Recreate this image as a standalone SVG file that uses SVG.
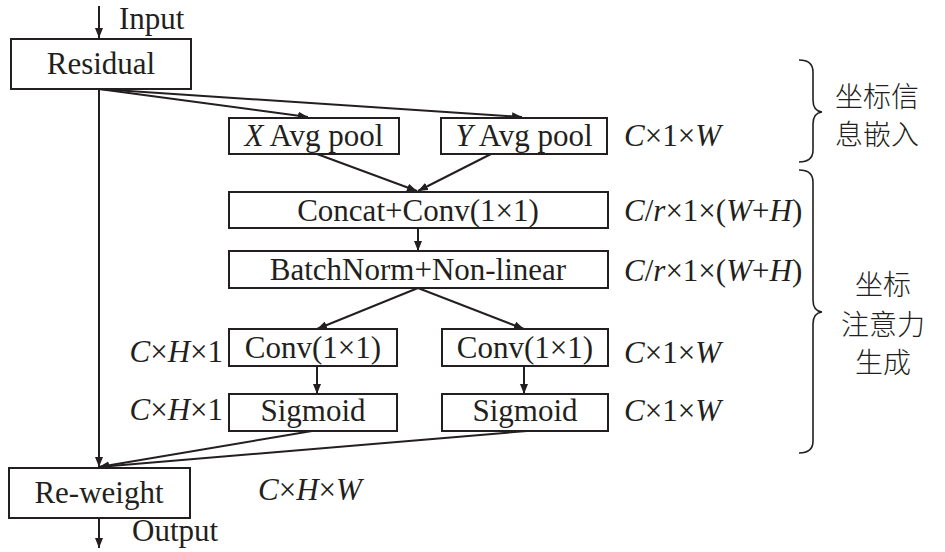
<svg xmlns="http://www.w3.org/2000/svg" width="945" height="552" viewBox="0 0 945 552">
<defs>
<marker id="arrow" viewBox="0 0 10 8" refX="10" refY="4" markerWidth="10" markerHeight="8" markerUnits="userSpaceOnUse" orient="auto">
<path d="M0,0 L10,4 L0,8 Z" fill="#231f20"/>
</marker>
<style>
.box{fill:#fff;stroke:#231f20;stroke-width:2}
.t{font-family:'Liberation Serif',serif;font-size:31px;fill:#231f20}
.c{text-anchor:middle}
.e{text-anchor:end}
.i{font-style:italic}
.cn{font-family:'Noto Sans CJK SC',sans-serif;font-size:28px;fill:#231f20;font-weight:300}
.ln{fill:none;stroke:#231f20;stroke-width:2}
.br{fill:none;stroke:#231f20;stroke-width:1.6}
</style>
</defs>
<rect width="945" height="552" fill="#fff"/>
<g id="connectors">
<line class="ln" x1="99" y1="6" x2="99" y2="38" marker-end="url(#arrow)"/>
<line class="ln" x1="99" y1="89" x2="308" y2="117" marker-end="url(#arrow)"/>
<line class="ln" x1="99" y1="89" x2="522" y2="117" marker-end="url(#arrow)"/>
<line class="ln" x1="317" y1="154" x2="417" y2="191" marker-end="url(#arrow)"/>
<line class="ln" x1="491" y1="154" x2="418" y2="191" marker-end="url(#arrow)"/>
<line class="ln" x1="418" y1="228" x2="418" y2="251" marker-end="url(#arrow)"/>
<line class="ln" x1="418" y1="288" x2="317" y2="329" marker-end="url(#arrow)"/>
<line class="ln" x1="418" y1="288" x2="524" y2="329" marker-end="url(#arrow)"/>
<line class="ln" x1="317" y1="366" x2="317" y2="394" marker-end="url(#arrow)"/>
<line class="ln" x1="524" y1="366" x2="524" y2="394" marker-end="url(#arrow)"/>
<line class="ln" x1="99" y1="89" x2="99" y2="467" marker-end="url(#arrow)"/>
<line class="ln" x1="312" y1="431" x2="99" y2="467" marker-end="url(#arrow)"/>
<line class="ln" x1="527" y1="431" x2="99" y2="467" marker-end="url(#arrow)"/>
<line class="ln" x1="99" y1="518" x2="99" y2="548" marker-end="url(#arrow)"/>
</g>
<g id="input-label"><text class="t" x="119" y="29">Input</text></g>
<g id="residual"><rect class="box" x="11" y="39" width="180" height="50"/><text class="t c" x="101" y="74">Residual</text></g>
<g id="xpool"><rect class="box" x="229" y="118" width="170" height="36"/><text class="t c" x="314" y="146"><tspan class="i">X</tspan> Avg pool</text></g>
<g id="ypool"><rect class="box" x="441" y="118" width="166" height="36"/><text class="t c" x="524" y="146"><tspan class="i">Y</tspan> Avg pool</text></g>
<g id="concat"><rect class="box" x="229" y="192" width="379" height="36"/><text class="t c" x="418" y="221">Concat+Conv(1×1)</text></g>
<g id="batchnorm"><rect class="box" x="229" y="251" width="379" height="37"/><text class="t c" x="418" y="280">BatchNorm+Non-linear</text></g>
<g id="conv-h"><rect class="box" x="229" y="329" width="168" height="37"/><text class="t c" x="313" y="358">Conv(1×1)</text></g>
<g id="conv-w"><rect class="box" x="442" y="329" width="166" height="37"/><text class="t c" x="525" y="358">Conv(1×1)</text></g>
<g id="sigmoid-h"><rect class="box" x="229" y="394" width="168" height="37"/><text class="t c" x="313" y="421">Sigmoid</text></g>
<g id="sigmoid-w"><rect class="box" x="442" y="394" width="166" height="37"/><text class="t c" x="525" y="421">Sigmoid</text></g>
<g id="reweight"><rect class="box" x="9" y="468" width="181" height="50"/><text class="t c" x="99" y="503">Re-weight</text></g>
<g id="output-label"><text class="t" x="132" y="541">Output</text></g>
<g id="dims">
<text class="t" x="624" y="146"><tspan class="i">C</tspan>×1×<tspan class="i">W</tspan></text>
<text class="t" x="624" y="221"><tspan class="i">C</tspan>/<tspan class="i">r</tspan>×1×(<tspan class="i">W</tspan>+<tspan class="i">H</tspan>)</text>
<text class="t" x="624" y="281"><tspan class="i">C</tspan>/<tspan class="i">r</tspan>×1×(<tspan class="i">W</tspan>+<tspan class="i">H</tspan>)</text>
<text class="t" x="624" y="363"><tspan class="i">C</tspan>×1×<tspan class="i">W</tspan></text>
<text class="t" x="624" y="421"><tspan class="i">C</tspan>×1×<tspan class="i">W</tspan></text>
<text class="t e" x="223" y="362"><tspan class="i">C</tspan>×<tspan class="i">H</tspan>×1</text>
<text class="t e" x="223" y="420"><tspan class="i">C</tspan>×<tspan class="i">H</tspan>×1</text>
<text class="t" x="258" y="500"><tspan class="i">C</tspan>×<tspan class="i">H</tspan>×<tspan class="i">W</tspan></text>
</g>
<g id="brace-embed">
<path class="br" d="M799,60 Q813,60 813,72 L813,100 Q813,111 822,112 Q813,113 813,124 L813,150 Q813,162 799,162"/>
<text class="cn" x="835" y="107">坐标信</text>
<text class="cn" x="835" y="145">息嵌入</text>
</g>
<g id="brace-attn">
<path class="br" d="M799,170 Q813,170 813,182 L813,300 Q813,311 822,312 Q813,313 813,324 L813,441 Q813,453 799,453"/>
<text class="cn c" x="883" y="295">坐标</text>
<text class="cn c" x="883" y="335">注意力</text>
<text class="cn c" x="883" y="373">生成</text>
</g>
</svg>
